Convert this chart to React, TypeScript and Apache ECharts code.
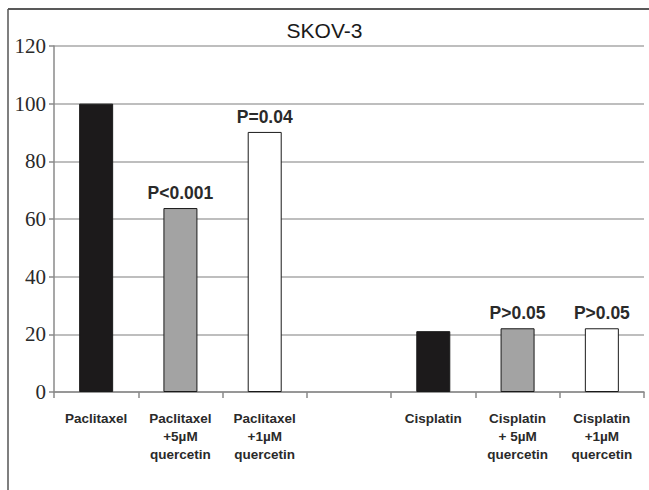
import React, { useEffect, useRef } from "react";
import * as echarts from "echarts";

const categories = [
  "Paclitaxel",
  "Paclitaxel\n+5µM\nquercetin",
  "Paclitaxel\n+1µM\nquercetin",
  "",
  "Cisplatin",
  "Cisplatin\n+ 5µM\nquercetin",
  "Cisplatin\n+1µM\nquercetin",
];
const values: (number | null)[] = [100, 63.8, 90.2, null, 21.1, 22.1, 22.1];
const pLabels = ["", "P<0.001", "P=0.04", "", "", "P>0.05", "P>0.05"];
const barColors = ["#1c1a1b", "#a3a3a3", "#ffffff", "#ffffff", "#1c1a1b", "#a3a3a3", "#ffffff"];
const yTicks = { min: 0, max: 120, interval: 20 };

const SANS = "Liberation Sans";
const SERIF = "Liberation Serif";

export default function App() {
  const ref = useRef<HTMLDivElement>(null);
  useEffect(() => {
    const chart = echarts.init(ref.current!, null, { renderer: "svg" });
    chart.setOption({
      animation: false,
      backgroundColor: "#ffffff",
      title: {
        text: "SKOV-3",
        left: "center",
        top: 15,
        textStyle: {
          fontFamily: SANS,
          fontWeight: "normal",
          fontSize: 21,
          color: "#1a1a1a",
        },
      },
      graphic: [
        {
          type: "line",
          shape: { x1: 8, y1: 9, x2: 649, y2: 9 },
          style: { stroke: "#222", lineWidth: 1.5 },
        },
        {
          type: "line",
          shape: { x1: 8, y1: 9, x2: 8, y2: 490 },
          style: { stroke: "#555", lineWidth: 1.5 },
        },
      ],
      grid: { left: 54, right: 5, top: 46, bottom: 98, containLabel: false },
      xAxis: {
        type: "category",
        data: categories,
        boundaryGap: true,
        axisLine: { show: true, lineStyle: { color: "#8a8a8a", width: 1.5 } },
        axisTick: { show: true, length: 6, interval: 0, lineStyle: { color: "#8a8a8a", width: 1.5 } },
        axisLabel: {
          interval: 0,
          margin: 17,
          fontFamily: SANS,
          fontWeight: "bold",
          fontSize: 13.5,
          lineHeight: 18,
          color: "#2a2a2a",
          align: "center",
        },
      },
      yAxis: {
        type: "value",
        min: yTicks.min,
        max: yTicks.max,
        interval: yTicks.interval,
        axisLine: { show: true, lineStyle: { color: "#8a8a8a", width: 1.5 } },
        axisTick: { show: true, length: 5, lineStyle: { color: "#8a8a8a", width: 1.5 } },
        splitLine: { show: true, lineStyle: { color: "#a8a8a8", width: 1.5 } },
        axisLabel: {
          margin: 8,
          fontFamily: SERIF,
          fontSize: 21,
          color: "#2a2a2a",
        },
      },
      series: [
        {
          type: "bar",
          barWidth: 34,
          data: values.map((v, i) => ({
            value: v,
            itemStyle: { color: barColors[i], borderColor: "#1a1a1a", borderWidth: 1 },
          })),
          label: {
            show: true,
            position: "top",
            distance: 6,
            formatter: (p: any) => pLabels[p.dataIndex] || "",
            fontFamily: SANS,
            fontWeight: "bold",
            fontSize: 17.5,
            color: "#2a2a2a",
          },
        },
      ],
    });
    return () => chart.dispose();
  }, []);
  return (
    <div
      ref={ref}
      style={{ position: "absolute", left: 0, top: 0, width: 649, height: 490 }}
    />
  );
}
